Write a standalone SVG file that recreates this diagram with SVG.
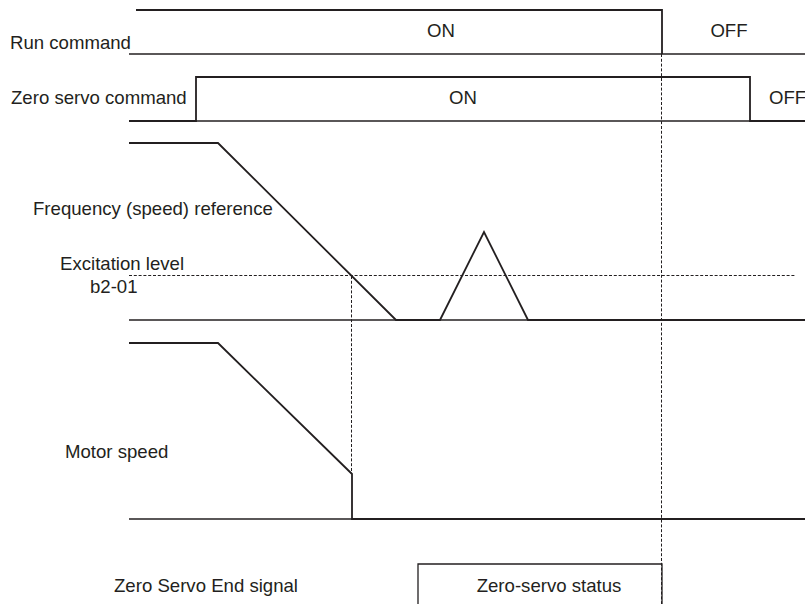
<svg xmlns="http://www.w3.org/2000/svg" width="805" height="604" viewBox="0 0 805 604">
<style>
.t{font-family:"Liberation Sans",Arial,sans-serif;font-size:18.6px;fill:#231f20}
.sig{fill:none;stroke:#231f20;stroke-width:1.8;stroke-linejoin:miter}
.base{fill:none;stroke:#231f20;stroke-width:1.3}
.dash{fill:none;stroke:#231f20;stroke-width:1;stroke-dasharray:3,1.8}
</style>
<rect width="805" height="604" fill="#fff"/>
<g id="connectors">
<line class="dash" x1="129" y1="275.5" x2="795" y2="275.5"/>
<line class="dash" x1="351.5" y1="276" x2="351.5" y2="474"/>
<line class="dash" x1="661.5" y1="54" x2="661.5" y2="604"/>
</g>
<g id="run-command">
<line class="base" x1="129" y1="54" x2="805" y2="54"/>
<path class="sig" d="M136,10 H662 V54"/>
<text class="t" x="10" y="49">Run command</text>
<text class="t" x="441" y="37" text-anchor="middle">ON</text>
<text class="t" x="729" y="37" text-anchor="middle">OFF</text>
</g>
<g id="zero-servo-command">
<line class="base" x1="129" y1="121" x2="805" y2="121"/>
<path class="sig" d="M129,121 H196 V77 H750 V121 H805"/>
<text class="t" x="11" y="104">Zero servo command</text>
<text class="t" x="463" y="104" text-anchor="middle">ON</text>
<text class="t" x="769" y="104">OFF</text>
</g>
<g id="frequency-reference">
<line class="base" x1="129" y1="320" x2="805" y2="320"/>
<path class="sig" d="M129,143 H218 L396,320 H440 L484,232 L528,320 H805"/>
<text class="t" x="33" y="215">Frequency (speed) reference</text>
<text class="t" x="60" y="270">Excitation level</text>
<text class="t" x="90" y="293">b2-01</text>
</g>
<g id="motor-speed">
<line class="base" x1="129" y1="519" x2="805" y2="519"/>
<path class="sig" d="M129,343 H218 L352,474 V519 H805"/>
<text class="t" x="65" y="458">Motor speed</text>
</g>
<g id="zero-servo-end">
<path class="base" d="M418,604 V564 H662 V604"/>
<text class="t" x="114" y="592">Zero Servo End signal</text>
<text class="t" x="549" y="592" text-anchor="middle">Zero-servo status</text>
</g>
</svg>
